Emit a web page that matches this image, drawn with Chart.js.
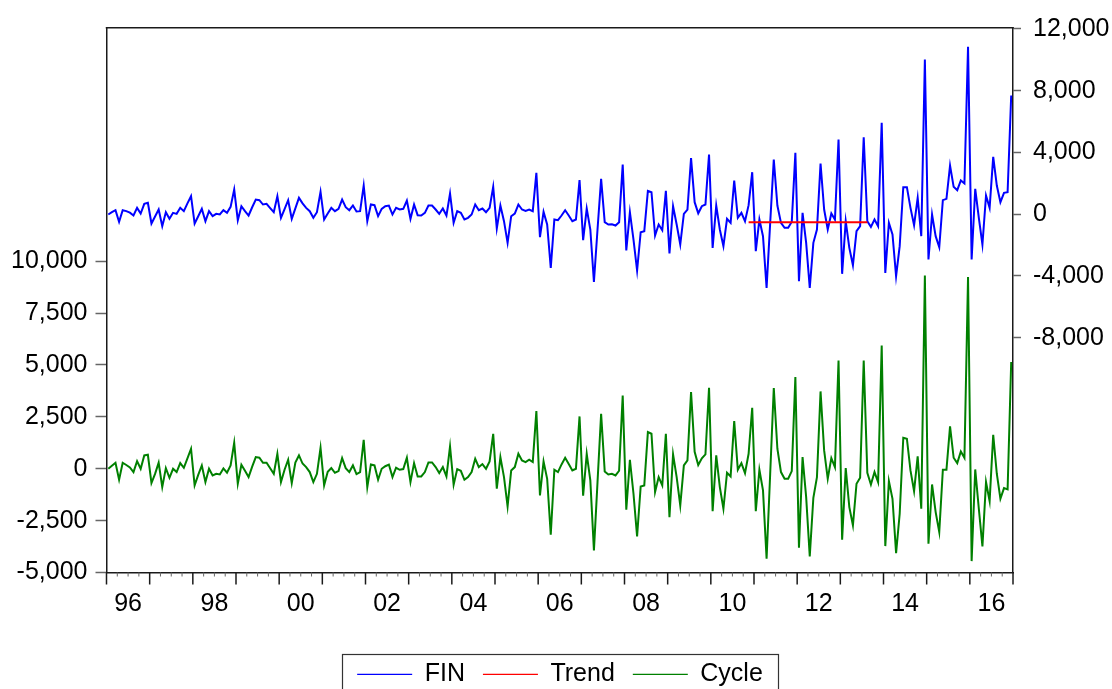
<!DOCTYPE html>
<html><head><meta charset="utf-8">
<script src="https://cdn.jsdelivr.net/npm/chart.js@4/dist/chart.umd.min.js"></script>
<style>html,body{margin:0;padding:0;background:#fff;}canvas{display:block;}</style>
</head><body>
<canvas id="c" width="1112" height="689"></canvas>
<script>
// Monthly categories 1996M01 .. 2016M12
const months = [];
for (let y = 1996; y <= 2016; y++) for (let m = 1; m <= 12; m++) months.push(y + 'M' + String(m).padStart(2, '0'));

const yearTickLabels = ['96','98','00','02','04','06','08','10','12','14','16'];
const leftTicks = [-5000, -2500, 0, 2500, 5000, 7500, 10000];
const rightTicks = [-8000, -4000, 0, 4000, 8000, 12000];

const fin = [
-19,130,261,-494,261,200,100,-84,412,45,672,736,
-603,-150,304,-775,132,-300,89,24,412,196,700,1168,
-603,-130,348,-451,196,-127,24,-19,261,89,477,1600,
-387,520,200,-84,450,952,909,628,672,400,132,1168,
-235,330,909,-300,380,1060,700,412,196,-235,132,1449,
-344,50,412,196,348,952,456,261,564,174,196,1860,
-451,628,585,-127,348,520,564,-19,412,304,348,888,
-300,628,-63,-84,89,564,564,304,24,369,-84,1341,
-559,196,89,-344,-235,-19,628,261,369,132,412,1773,
-927,564,-451,-1855,-127,45,628,304,218,304,196,2680,
-1488,153,-667,-3475,-344,-389,-84,261,-84,-451,-344,2205,
-1683,369,-991,-4382,-991,2292,-516,-667,-646,-732,-516,3220,
-2352,132,-1639,-3648,-1164,-1099,1514,1427,-1380,-667,-1037,1514,
-2546,520,-667,-1963,24,304,3630,780,60,520,628,3868,
-2179,564,-991,-2071,-300,-559,2183,-235,89,-451,585,2723,
-2395,-344,-1423,-4771,-559,3544,564,-559,-883,-883,-492,3976,
-4339,89,-1855,-4771,-1855,-991,3285,304,-991,45,-344,4840,
-3863,-451,-2179,-3302,-1099,-775,4991,-451,-818,-344,-775,5920,
-3799,-559,-1315,-4017,-2071,1751,1751,412,-711,1060,-1423,10023,
-2935,-19,-1423,-2138,909,996,3155,1773,1557,2183,1989,10844,
-2935,1644,-235,-1963,1212,412,3717,1860,779,1384,1427,7690
];

const trend = [
null,null,null,null,null,null,null,null,null,null,null,null,
null,null,null,null,null,null,null,null,null,null,null,null,
null,null,null,null,null,null,null,null,null,null,null,null,
null,null,null,null,null,null,null,null,null,null,null,null,
null,null,null,null,null,null,null,null,null,null,null,null,
null,null,null,null,null,null,null,null,null,null,null,null,
null,null,null,null,null,null,null,null,null,null,null,null,
null,null,null,null,null,null,null,null,null,null,null,null,
null,null,null,null,null,null,null,null,null,null,null,null,
null,null,null,null,null,null,null,null,null,null,null,null,
null,null,null,null,null,null,null,null,null,null,null,null,
null,null,null,null,null,null,null,null,null,null,null,null,
null,null,null,null,null,null,null,null,null,null,null,null,
null,null,null,null,null,null,null,null,null,null,null,null,
null,null,null,null,null,null,null,null,null,null,-520,-520,
-520,-520,-520,-520,-520,-520,-520,-520,-520,-520,-520,-520,
-520,-520,-520,-520,-520,-520,-520,-520,-520,-520,-520,-520,
-520,-520,-520,-520,-520,-520,-520,-520,null,null,null,null,
null,null,null,null,null,null,null,null,null,null,null,null,
null,null,null,null,null,null,null,null,null,null,null,null,
null,null,null,null,null,null,null,null,null,null,null,null
];

const cycle = [
-2,140,288,-532,288,180,60,-162,368,-2,641,673,
-692,-250,288,-885,30,-435,-2,-162,271,47,500,962,
-805,-300,159,-644,-2,-323,-243,-275,14,-194,159,1251,
-724,191,-100,-403,100,561,529,288,288,20,-243,721,
-644,-50,432,-692,300,641,250,79,-162,-644,-243,1010,
-805,-150,30,-194,-114,512,30,-162,159,-259,-162,1396,
-885,207,159,-532,-2,120,200,-403,47,-50,-18,529,
-644,271,-371,-371,-162,304,304,79,-211,79,-371,1075,
-773,-18,-98,-532,-403,-162,480,79,223,-2,352,1685,
-965,561,-403,-1817,-82,79,721,400,320,432,320,2777,
-1287,352,-484,-3182,-50,-162,207,529,223,-82,-2,2520,
-1303,721,-564,-3937,-644,2649,-130,-275,-243,-323,-98,3532,
-1977,432,-1206,-3262,-853,-805,1765,1685,-1126,-403,-805,1685,
-2331,689,-403,-1769,159,400,3693,818,180,500,689,3902,
-2042,641,-885,-1929,-194,-371,2295,-50,271,-211,721,2938,
-2042,-50,-1046,-4339,-241,3886,962,-162,-484,-484,-114,4416,
-3809,561,-1367,-4226,-1399,-403,3725,882,-484,512,79,5219,
-3423,30,-1849,-2732,-724,-435,5219,-194,-757,-162,-644,5942,
-3728,-596,-1447,-4066,-2170,1492,1444,-82,-1078,593,-1929,9315,
-3616,-757,-2090,-3054,-50,-50,2038,529,271,834,529,9235,
-4451,-34,-1929,-3744,-644,-1560,1637,-241,-1447,-933,-998,5139
];

const FONT = "'Liberation Sans', Arial, sans-serif";
const FS = 25;
const toXY = arr => arr.map((v, i) => ({ x: i, y: v }));
const fmt = v => Number(v).toLocaleString('en-US');

const framePlugin = {
  id: 'frame',
  afterLayout(chart) {
    // nudge the legend block slightly to the right, as in the reference
    chart.legend.left += 4;
    chart.legend.right += 4;
  },
  afterDraw(chart) {
    const { ctx, chartArea: a } = chart;
    ctx.save();
    ctx.strokeStyle = '#1a1a1a';
    ctx.lineWidth = 1.5;
    ctx.beginPath(); ctx.moveTo(a.left - 0.75, a.top); ctx.lineTo(a.right + 0.75, a.top); ctx.stroke();
    const xs = chart.scales.x;
    xs.ticks.forEach(t => {
      const px = xs.getPixelForValue(t.value);
      const major = ((t.value + 0.5) % 12) === 0;
      ctx.lineWidth = major ? 1.5 : 1;
      ctx.strokeStyle = major ? '#1a1a1a' : '#666';
      ctx.beginPath(); ctx.moveTo(px, a.bottom); ctx.lineTo(px, a.bottom + (major ? 12 : 4)); ctx.stroke();
    });
    const hb = chart.legend.legendHitBoxes;
    if (hb && hb.length) {
      const first = hb[0], last = hb[hb.length - 1];
      const cy = first.top + first.height / 2;
      const l = first.left - 15, r = last.left + last.width + 15, t = cy - 20.5;
      ctx.lineWidth = 1.2; ctx.strokeStyle = '#333';
      ctx.strokeRect(Math.round(l) + 0.5, Math.round(t) + 0.5, Math.round(r - l), 80);
    }
    ctx.restore();
  }
};

new Chart(document.getElementById('c'), {
  type: 'line',
  data: {
    datasets: [
      { label: 'FIN', data: toXY(fin), yAxisID: 'yR', borderColor: '#0000ff', backgroundColor: '#0000ff', borderWidth: 2, pointRadius: 0, tension: 0, order: 1 },
      { label: 'Trend', data: toXY(trend), yAxisID: 'yR', borderColor: '#ff0000', backgroundColor: '#ff0000', borderWidth: 2, pointRadius: 0, tension: 0, order: 0 },
      { label: 'Cycle', data: toXY(cycle), yAxisID: 'yL', borderColor: '#008000', backgroundColor: '#008000', borderWidth: 2, pointRadius: 0, tension: 0, order: 2 }
    ]
  },
  options: {
    responsive: false,
    animation: false,
    devicePixelRatio: 1,
    layout: { padding: { top: 27.7, left: 0, right: 0, bottom: 0 } },
    plugins: {
      tooltip: { enabled: false },
      legend: {
        position: 'bottom',
        maxHeight: 45.2,
        labels: {
          usePointStyle: true,
          pointStyle: 'line',
          pointStyleWidth: 55,
          padding: 18,
          color: '#000',
          font: { size: FS, family: FONT },
          sort: (a, b) => a.datasetIndex - b.datasetIndex,
          generateLabels: chart => Chart.defaults.plugins.legend.labels.generateLabels(chart).map(l => Object.assign(l, { lineWidth: 1.3 }))
        }
      }
    },
    scales: {
      x: {
        type: 'linear',
        min: -0.5,
        max: months.length - 0.5,
        afterBuildTicks: s => {
          const t = [];
          for (let k = 0; k <= months.length / 3; k++) t.push({ value: -0.5 + 3 * k });
          s.ticks = t;
        },
        afterFit: s => { s.height = 71.3; },
        grid: { display: false },
        border: { display: true, color: '#1a1a1a', width: 1.5 },
        ticks: {
          autoSkip: false, maxRotation: 0, minRotation: 0, padding: 9,
          color: '#000', font: { size: FS, family: FONT },
          callback: v => {
            const m = v + 0.5;
            if (m % 24 === 6) return yearTickLabels[(m - 6) / 24];
            return '';
          }
        }
      },
      yL: {
        type: 'linear', position: 'left', min: -5000, max: 21250,
        afterBuildTicks: s => { s.ticks = leftTicks.map(v => ({ value: v })); },
        afterFit: s => { s.width = 106.5; },
        grid: { drawOnChartArea: false, drawTicks: true, tickLength: 11, tickColor: '#666', tickWidth: 1.5 },
        border: { display: true, color: '#1a1a1a', width: 1.5 },
        ticks: { padding: 8, color: '#000', font: { size: FS, family: FONT }, callback: fmt }
      },
      yR: {
        type: 'linear', position: 'right', min: -23212, max: 12084,
        afterBuildTicks: s => { s.ticks = rightTicks.map(v => ({ value: v })); },
        afterFit: s => { s.width = 99; },
        grid: { drawOnChartArea: false, drawTicks: true, tickLength: 8, tickColor: '#666', tickWidth: 1.5 },
        border: { display: true, color: '#1a1a1a', width: 1.5 },
        ticks: { padding: 12, color: '#000', font: { size: FS, family: FONT }, callback: fmt }
      }
    }
  },
  plugins: [framePlugin]
});
</script>
</body></html>
